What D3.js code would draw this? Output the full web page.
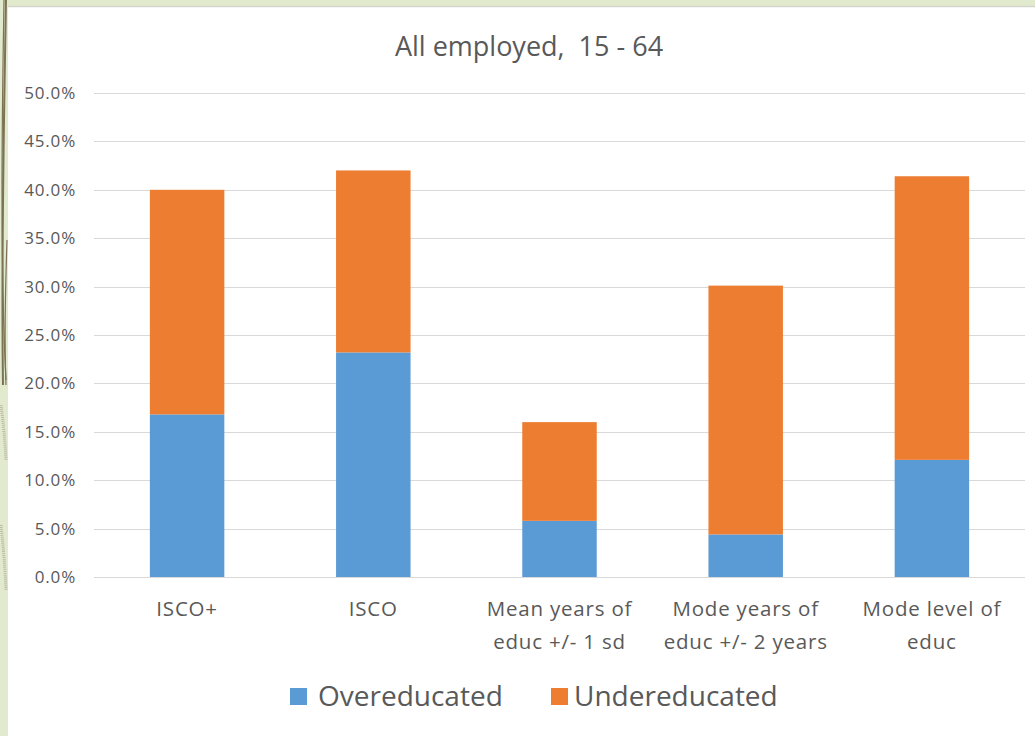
<!DOCTYPE html>
<html><head><meta charset="utf-8">
<script src="https://cdn.jsdelivr.net/npm/d3@7"></script>
<style>
html,body{margin:0;padding:0;background:#e2eacd;}
svg{display:block;}
text{white-space:pre;}
</style></head>
<body>
<script>
const categories = [["ISCO+"], ["ISCO"], ["Mean years of", "educ +/- 1 sd"], ["Mode years of", "educ +/- 2 years"], ["Mode level of", "educ"]];
const overeducated = [16.8, 23.2, 5.8, 4.4, 12.1];
const undereducated = [23.2, 18.8, 10.2, 25.7, 29.3];
const seriesNames = ["Overeducated", "Undereducated"];
const yTicks = [0, 5, 10, 15, 20, 25, 30, 35, 40, 45, 50];
const title = "All employed,  15 - 64";

const W = 1035, H = 736;
const colors = ["#5b9bd5", "#ed7d31"];
const font = "'Open Sans', Lato, sans-serif";

const svg = d3.select("body").append("svg").attr("width", W).attr("height", H);
// slide background
svg.append("rect").attr("x", 0).attr("y", 0).attr("width", W).attr("height", H).attr("fill", "#e2eacd");
svg.append("rect").attr("x", 8).attr("y", 7).attr("width", W - 8).attr("height", H - 7).attr("fill", "#ffffff");
svg.append("line").attr("x1", 8).attr("x2", W).attr("y1", 6.5).attr("y2", 6.5).attr("stroke", "#d4d6cc").attr("stroke-width", 1.5);
// decorative curves
const deco = svg.append("g").attr("fill", "none").attr("stroke", "#7d7256");
deco.append("path").attr("d", "M6,0 C4,120 1,250 3,385").attr("stroke-width", 2);
deco.append("path").attr("d", "M4,0 C2,120 0,260 6,380").attr("stroke-width", 1.2);
deco.append("path").attr("d", "M7,240 C5,300 4,340 6,385").attr("stroke-width", 1.2);
deco.append("path").attr("d", "M1,405 C3,420 5,440 6,460").attr("stroke", "#b9b8a0").attr("stroke-width", 3).attr("stroke-dasharray", "1,1");
deco.append("path").attr("d", "M1,525 C3,545 5,565 6,590").attr("stroke", "#b9b8a0").attr("stroke-width", 3).attr("stroke-dasharray", "1,1");

const x = d3.scaleBand().domain(d3.range(categories.length)).range([94, 1025]).paddingInner(0.6).paddingOuter(0.3);
const y = d3.scaleLinear().domain([0, 50]).range([577, 93]);

// gridlines
svg.append("g").selectAll("line").data(yTicks).join("line")
  .attr("x1", 94).attr("x2", 1025)
  .attr("y1", d => Math.round(y(d)) + 0.5).attr("y2", d => Math.round(y(d)) + 0.5)
  .attr("stroke", "#d9d9d9").attr("stroke-width", 1);

// y axis labels
const yAxis = d3.axisLeft(y).tickValues(yTicks).tickSize(0).tickPadding(0).tickFormat(d => d3.format(".1f")(d) + "%");
const ya = svg.append("g").attr("transform", "translate(76,0)").call(yAxis);
ya.select(".domain").remove();
ya.selectAll("text").attr("font-family", font).attr("font-size", 17).attr("letter-spacing", 0.8).attr("fill", "#595959");

// stacked bars
const rows = categories.map((c, i) => ({i, Overeducated: overeducated[i], Undereducated: undereducated[i]}));
const stack = d3.stack().keys(seriesNames)(rows);
svg.append("g").selectAll("g").data(stack).join("g").attr("fill", (d, i) => colors[i])
  .selectAll("rect").data(d => d).join("rect")
  .attr("x", d => x(d.data.i)).attr("width", x.bandwidth())
  .attr("y", d => y(d[1])).attr("height", d => y(d[0]) - y(d[1]));

// x axis labels
const xl = svg.append("g");
categories.forEach((lines, i) => {
  const t = xl.append("text").attr("text-anchor", "middle").attr("font-family", font).attr("font-size", 20.5).attr("letter-spacing", 0.8).attr("fill", "#595959");
  lines.forEach((ln, k) => t.append("tspan").attr("x", x(i) + x.bandwidth() / 2).attr("y", 616 + k * 33).text(ln));
});

// title
svg.append("text").attr("x", 529).attr("y", 56).attr("text-anchor", "middle").attr("font-family", font).attr("font-size", 27).attr("fill", "#595959").text(title);

// legend
const leg = svg.append("g");
const legX = [290, 551];
const legTextX = [318, 574];
seriesNames.forEach((n, i) => {
  leg.append("rect").attr("x", legX[i]).attr("y", 688).attr("width", 17).attr("height", 17).attr("fill", colors[i]);
  leg.append("text").attr("x", legTextX[i]).attr("y", 706).attr("font-family", font).attr("font-size", 28).attr("fill", "#595959").text(n);
});
</script>
</body></html>
